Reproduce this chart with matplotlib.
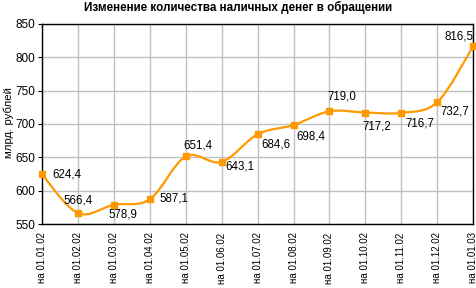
import numpy as np
import matplotlib
matplotlib.use("Agg")
import matplotlib.pyplot as plt
from matplotlib.path import Path
from matplotlib.patches import PathPatch

plt.rcParams['font.family'] = ['Liberation Sans', 'DejaVu Sans']
plt.rcParams['font.size'] = 8

TITLE = "Изменение количества наличных денег в обращении"
Y_LABEL = "млрд. рублей"
DATES = ["на 01.01.02", "на 01.02.02", "на 01.03.02", "на 01.04.02", "на 01.05.02",
         "на 01.06.02", "на 01.07.02", "на 01.08.02", "на 01.09.02", "на 01.10.02",
         "на 01.11.02", "на 01.12.02", "на 01.01.03"]
VALUES = [624.4, 566.4, 578.9, 587.1, 651.4, 643.1, 684.6, 698.4, 719.0, 717.2,
          716.7, 732.7, 816.5]
LABELS = ["624,4", "566,4", "578,9", "587,1", "651,4", "643,1", "684,6", "698,4",
          "719,0", "717,2", "716,7", "732,7", "816,5"]

# label placement (pixel offsets from the point, alignment)
OFFSETS = [(10, 0, 'left'), (0, 13, 'center'), (9, -10, 'center'), (10, 1, 'left'),
           (12, 11, 'center'), (4, -5, 'left'), (4, -10, 'left'), (3, -11, 'left'),
           (12, 15, 'center'), (11, -14, 'center'), (19, -11, 'center'), (3, -9, 'left'),
           (0, 10, 'right')]

COLOR = '#FF9900'


def smooth_path(xs, ys):
    # Excel-like smoothed line: Catmull-Rom as cubic Bezier segments
    n = len(xs)
    verts = [(xs[0], ys[0])]
    codes = [Path.MOVETO]
    for i in range(n - 1):
        x0, y0 = (xs[i - 1], ys[i - 1]) if i > 0 else (xs[i], ys[i])
        x3, y3 = (xs[i + 2], ys[i + 2]) if i + 2 < n else (xs[i + 1], ys[i + 1])
        c1 = (xs[i] + (xs[i + 1] - x0) / 6, ys[i] + (ys[i + 1] - y0) / 6)
        c2 = (xs[i + 1] - (x3 - xs[i]) / 6, ys[i + 1] - (y3 - ys[i]) / 6)
        verts += [c1, c2, (xs[i + 1], ys[i + 1])]
        codes += [Path.CURVE4] * 3
    return Path(verts, codes)


def main():
    fig = plt.figure(figsize=(4.77, 2.88), dpi=100)
    ax = fig.add_axes([0.088, 0.222, 0.904, 0.695])

    x = np.arange(len(VALUES))
    ax.add_patch(PathPatch(smooth_path(x, VALUES), facecolor='none',
                           edgecolor=COLOR, linewidth=1.6, zorder=3))
    ax.plot(x, VALUES, linestyle='none', marker='s', markersize=5,
            color=COLOR, zorder=4, clip_on=False)

    for i, (dx, dy, ha) in enumerate(OFFSETS):
        ax.annotate(LABELS[i], (x[i], VALUES[i]), xytext=(dx, dy),
                    textcoords='offset pixels', ha=ha, va='center', fontsize=8.3)

    ax.set_xlim(0, len(VALUES) - 1)
    ax.set_ylim(550, 850)
    ax.set_yticks(range(550, 851, 50))
    ax.set_xticks(x)
    ax.set_xticklabels(DATES, rotation=90, fontsize=7.0)
    ax.tick_params(axis='y', labelsize=8.5, length=3, pad=2)
    ax.tick_params(axis='x', length=0, pad=6)
    ax.grid(True, color='#C0C0C0', linewidth=1)
    ax.set_axisbelow(True)
    for s in ax.spines.values():
        s.set_linewidth(1)
        s.set_color('black')

    fig.text(0.019, 0.576, Y_LABEL, rotation=90, ha='center', va='center', fontsize=8.2)
    fig.text(0.5, 0.975, TITLE, ha='center', va='center', fontsize=8.4, fontweight='bold')

    fig.savefig("out.png", dpi=100)


main()
